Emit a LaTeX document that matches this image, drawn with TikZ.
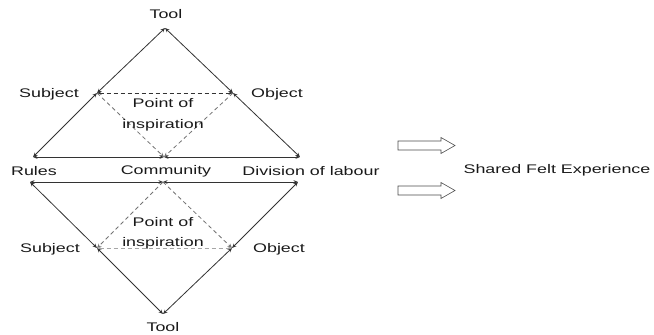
\documentclass[tikz,border=0pt]{standalone}
\usepackage{fontspec}
\usepackage{graphicx}
\setmainfont{Liberation Sans}
\usetikzlibrary{arrows.meta}
\newcommand{\wtxt}[1]{\scalebox{1.43}[1]{#1}}
\begin{document}
\begin{tikzpicture}[x=1pt,y=-1pt,
  lbl/.style={inner sep=0pt, font=\fontsize{12.5}{14}\selectfont, text=black!90},
  tip/.tip={Stealth[length=4.5pt,width=3.8pt]},
  solidln/.style={draw=black!80, line width=0.8pt, tip-tip},
  dashln/.style={draw=black!55, line width=0.8pt, dash pattern=on 4pt off 3pt},
  blockarrow/.style={draw=black!70, line width=0.6pt, fill=white}]
\useasboundingbox (0,0) rectangle (654,335);
% points
\coordinate (tt) at (165,28);
\coordinate (st) at (97,93);
\coordinate (ot) at (233,93);
\coordinate (rt) at (33,157);
\coordinate (ct) at (164,157);
\coordinate (dt) at (300,157);
\coordinate (rb) at (30,182);
\coordinate (cb) at (163,182);
\coordinate (db) at (298,182);
\coordinate (sb) at (97,248);
\coordinate (ob) at (232,248);
\coordinate (tb) at (163,314);
% solid edges upper
\draw[solidln] (tt) -- (st);
\draw[solidln] (st) -- (rt);
\draw[solidln] (tt) -- (ot);
\draw[solidln] (ot) -- (dt);
\draw[solidln] (rt) -- (ct);
\draw[solidln] (ct) -- (dt);
% solid edges lower
\draw[solidln] (rb) -- (cb);
\draw[solidln] (cb) -- (db);
\draw[solidln] (rb) -- (sb);
\draw[solidln] (sb) -- (tb);
\draw[solidln] (db) -- (ob);
\draw[solidln] (ob) -- (tb);
% dashed upper
\draw[dashln, tip-tip, draw=black!80] (st) -- (ot);
\draw[dashln, -tip] (st) -- (ct);
\draw[dashln, -tip] (ot) -- (ct);
% dashed lower
\draw[dashln, -tip] (cb) -- (sb);
\draw[dashln, -tip] (cb) -- (ob);
\draw[dashln, draw=black!35, tip-tip] (sb) -- (ob);
% labels
\node[lbl] (ltt) at (166,14) {\wtxt{Tool}};
\node[lbl] (lst) at (49,94) {\wtxt{Subject}};
\node[lbl] (lot) at (277,94) {\wtxt{Object}};
\node[lbl] (lp1) at (163,103) {\wtxt{Point of}};
\node[lbl] (li1) at (163,125) {\wtxt{inspiration}};
\node[lbl] (lr) at (34,171) {\wtxt{Rules}};
\node[lbl] (lc) at (166,171) {\wtxt{Community}};
\node[lbl] (ld) at (311,171) {\wtxt{Division of labour}};
\node[lbl] (lp2) at (163,222) {\wtxt{Point of}};
\node[lbl] (li2) at (163,243) {\wtxt{inspiration}};
\node[lbl] (lsb) at (50,249) {\wtxt{Subject}};
\node[lbl] (lob) at (279,249) {\wtxt{Object}};
\node[lbl] (ltb) at (163,327) {\wtxt{Tool}};
\node[lbl] (lsf) at (557,170) {\wtxt{Shared Felt Experience}};
% block arrows
\draw[blockarrow] (398,141) -- (441,141) -- (441,137.5) -- (455,145.5) -- (441,153.5) -- (441,150) -- (398,150) -- cycle;
\draw[blockarrow] (398,186) -- (441,186) -- (441,182.5) -- (455,190.5) -- (441,198.5) -- (441,195) -- (398,195) -- cycle;
\end{tikzpicture}
\end{document}
